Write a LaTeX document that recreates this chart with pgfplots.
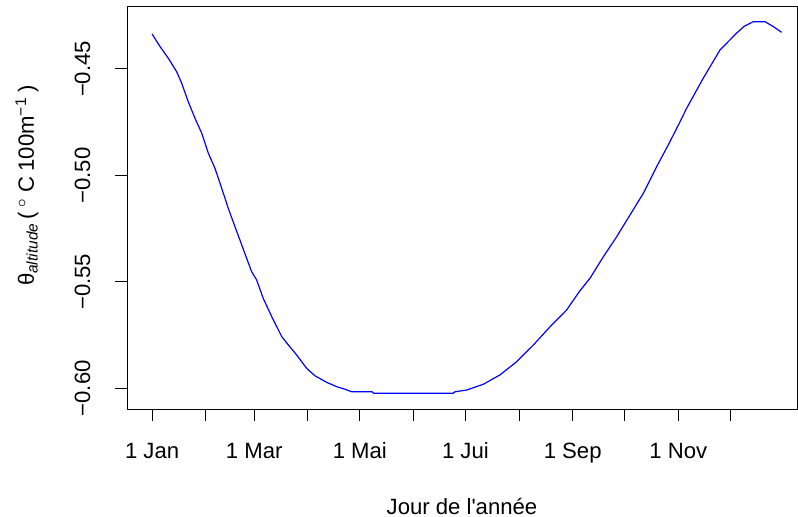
\documentclass[border=0pt]{standalone}
\usepackage{pgfplots}
\pgfplotsset{compat=1.18}
\usepackage{fontspec}
\setmainfont{Liberation Sans}
\newcommand{\fs}{\fontsize{11.1}{13}\selectfont}
\begin{document}
\fs
\begin{tikzpicture}
\useasboundingbox (0,0) rectangle (399bp,258.5bp);
\begin{axis}[
  at={(63.5bp,54bp)}, anchor=south west,
  scale only axis, width=335bp, height=201bp,
  xmin=-13.5, xmax=373.6, ymin=-0.6097, ymax=-0.4209,
  axis line style={line width=0.5bp},
  tick style={line width=0.5bp, black},
  tick align=outside, major tick length=6bp,
  xtick pos=bottom, ytick pos=left,
  xtick={1,32,60,91,121,152,182,213,244,274,305,335},
  xticklabels={1 Jan,,1 Mar,,1 Mai,,1 Jui,,1 Sep,,1 Nov,},
  ytick={-0.60,-0.55,-0.50,-0.45},
  yticklabels={−0.60,−0.55,−0.50,−0.45},
  xticklabel style={font=\fs, anchor=base, yshift=-18.5bp},
  yticklabel style={font=\fs, rotate=90, anchor=base, yshift=12.5bp},
  xlabel={Jour de l\textquotesingle année},
  ylabel={θ\textsubscript{\textit{altitude}}\hspace{1.5bp}(\hspace{2.5bp}\textsuperscript{$\circ$}\hspace{2.5bp}C\hspace{2.8bp}100m\textsuperscript{−1}\hspace{2.5bp})},
  xlabel style={font=\fs, at={(axis description cs:0.5,0)}, anchor=base, yshift=-52.5bp},
  ylabel style={font=\fs, at={(axis description cs:0,0.5)}, anchor=base, xshift=11.25bp, yshift=46.5bp},
  clip=false,
]
\addplot[color=blue, line width=0.6bp, mark=none] coordinates {
(1,-0.4336) (5.6,-0.4395) (10.4,-0.4450) (15.2,-0.4513) (18.1,-0.4567)
(21.9,-0.4654) (25.8,-0.4732) (29.7,-0.4802) (33.5,-0.4896) (37.3,-0.4966)
(41.2,-0.5060) (45.0,-0.5154) (48.9,-0.5241) (52.8,-0.5327) (58.5,-0.5452)
(61.4,-0.5491) (65.2,-0.5577) (70.1,-0.5663) (75.9,-0.5757) (79.7,-0.5796)
(84.5,-0.5843) (90.3,-0.5906) (95.1,-0.5941) (101.9,-0.5972) (107.6,-0.5992)
(112.4,-0.6004) (116.3,-0.6016) (128,-0.6016) (129,-0.6023) (175,-0.6023)
(176,-0.6016) (182.7,-0.6008) (192.3,-0.5981) (202,-0.5937) (211.6,-0.5875)
(221.2,-0.5797) (230.9,-0.5711) (240.5,-0.5632) (247.8,-0.5546) (254,-0.5483)
(261.7,-0.5382) (269.4,-0.5288) (277.1,-0.5186) (284.8,-0.5084) (292.5,-0.4959)
(299.2,-0.4857) (305.6,-0.4755) (309.8,-0.4685) (319.4,-0.4544) (329.1,-0.4411)
(338.7,-0.4332) (343,-0.4300) (348.3,-0.4278) (355.1,-0.4278) (359.9,-0.4301)
(364.7,-0.4328)
};
\end{axis}
\end{tikzpicture}
\end{document}
